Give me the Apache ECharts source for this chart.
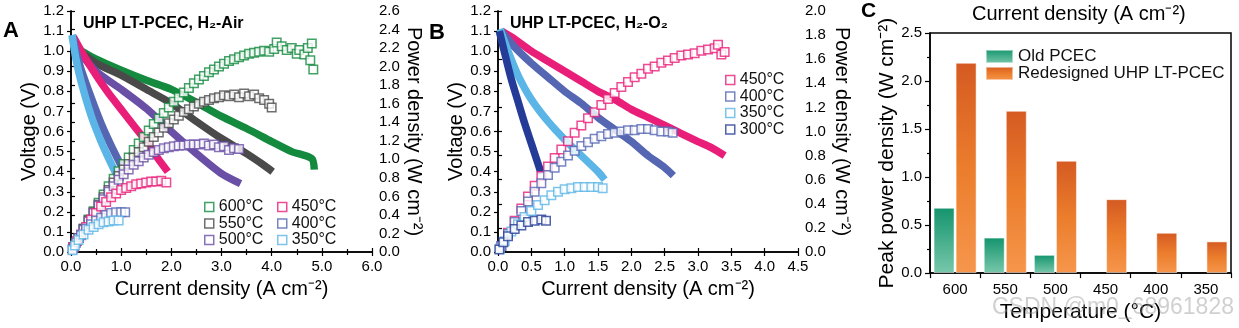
<!DOCTYPE html>
<html>
<head>
<meta charset="utf-8">
<script src="https://cdn.jsdelivr.net/npm/echarts@6/dist/echarts.min.js"></script>
<style>
  html, body { margin: 0; padding: 0; background: #fff; }
  #chart { width: 1239px; height: 328px; }
</style>
</head>
<body>
<div id="chart"></div>
<script>
// ---------- Panel A: H2-Air, voltage [A cm-2, V] ----------
const aV600 = [[0.08,1.02],[0.5,0.96],[1.0,0.905],[1.5,0.855],[2.0,0.81],[2.5,0.745],[3.0,0.675],[3.5,0.615],[4.0,0.55],[4.4,0.50],[4.8,0.465],[4.85,0.41]];
const aV550 = [[0.08,1.02],[0.5,0.94],[1.0,0.88],[1.5,0.81],[2.0,0.74],[2.5,0.65],[3.0,0.565],[3.5,0.49],[3.8,0.44],[4.02,0.40]];
const aV500 = [[0.08,1.02],[0.5,0.90],[1.0,0.81],[1.5,0.715],[2.0,0.60],[2.5,0.49],[3.0,0.39],[3.38,0.34]];
const aV450 = [[0.05,1.07],[0.25,0.98],[0.5,0.88],[0.75,0.79],[1.0,0.71],[1.25,0.63],[1.5,0.55],[1.75,0.46],[1.93,0.40]];
const aV400 = [[0.03,1.08],[0.1,1.0],[0.2,0.91],[0.4,0.77],[0.6,0.64],[0.8,0.53],[1.0,0.43]];
const aV350 = [[0.02,1.08],[0.1,0.96],[0.2,0.85],[0.4,0.68],[0.6,0.55],[0.8,0.44],[0.9,0.39]];

// ---------- Panel A: H2-Air, power density [A cm-2, W cm-2] ----------
const aP600 = [[0.05,0.05],[0.15,0.15],[0.25,0.25],[0.35,0.35],[0.45,0.44],[0.55,0.53],[0.65,0.62],[0.75,0.71],[0.85,0.79],[0.95,0.87],[1.05,0.95],[1.15,1.02],[1.25,1.10],[1.35,1.17],[1.45,1.24],[1.55,1.31],[1.65,1.38],[1.75,1.44],[1.85,1.50],[1.95,1.56],[2.05,1.62],[2.15,1.67],[2.25,1.72],[2.35,1.77],[2.45,1.82],[2.55,1.86],[2.65,1.90],[2.75,1.94],[2.85,1.97],[2.95,2.00],[3.05,2.03],[3.15,2.06],[3.25,2.08],[3.35,2.10],[3.45,2.12],[3.55,2.14],[3.65,2.15],[3.75,2.16],[3.85,2.17],[3.95,2.16],[4.05,2.19],[4.1,2.26],[4.2,2.22],[4.3,2.18],[4.4,2.20],[4.5,2.14],[4.55,2.18],[4.65,2.13],[4.72,2.20],[4.8,2.25],[4.77,2.07],[4.83,1.97]];
const aP550 = [[0.05,0.05],[0.15,0.15],[0.25,0.25],[0.35,0.34],[0.45,0.43],[0.55,0.51],[0.65,0.59],[0.75,0.67],[0.85,0.75],[0.95,0.82],[1.05,0.89],[1.15,0.95],[1.25,1.02],[1.35,1.08],[1.45,1.13],[1.55,1.19],[1.65,1.24],[1.75,1.29],[1.85,1.34],[1.95,1.39],[2.05,1.43],[2.15,1.47],[2.25,1.51],[2.35,1.54],[2.45,1.57],[2.55,1.60],[2.65,1.62],[2.75,1.64],[2.85,1.66],[2.95,1.67],[3.05,1.69],[3.15,1.68],[3.25,1.70],[3.35,1.67],[3.45,1.71],[3.55,1.68],[3.65,1.70],[3.75,1.66],[3.85,1.64],[3.95,1.60],[4.0,1.56]];
const aP500 = [[0.05,0.05],[0.15,0.15],[0.25,0.24],[0.35,0.33],[0.45,0.42],[0.55,0.50],[0.65,0.57],[0.75,0.65],[0.85,0.71],[0.95,0.78],[1.05,0.84],[1.15,0.89],[1.25,0.94],[1.35,0.98],[1.45,1.02],[1.55,1.05],[1.65,1.08],[1.75,1.10],[1.85,1.12],[1.95,1.13],[2.05,1.14],[2.15,1.15],[2.25,1.15],[2.35,1.16],[2.45,1.16],[2.55,1.16],[2.65,1.17],[2.75,1.15],[2.85,1.16],[2.95,1.13],[3.05,1.14],[3.15,1.10],[3.25,1.12],[3.35,1.11]];
const aP450 = [[0.05,0.05],[0.12,0.12],[0.2,0.19],[0.3,0.27],[0.4,0.35],[0.5,0.42],[0.6,0.49],[0.7,0.54],[0.8,0.59],[0.9,0.63],[1.0,0.67],[1.1,0.69],[1.2,0.71],[1.3,0.73],[1.4,0.74],[1.5,0.75],[1.6,0.76],[1.7,0.76],[1.8,0.77],[1.9,0.75]];
const aP400 = [[0.03,0.03],[0.1,0.10],[0.2,0.18],[0.3,0.25],[0.4,0.30],[0.5,0.34],[0.6,0.37],[0.7,0.40],[0.8,0.42],[0.9,0.43],[1.0,0.43],[1.08,0.43]];
const aP350 = [[0.03,0.02],[0.08,0.07],[0.15,0.13],[0.25,0.19],[0.35,0.24],[0.45,0.27],[0.55,0.30],[0.65,0.32],[0.75,0.33],[0.85,0.34],[0.95,0.34]];

// ---------- Panel B: H2-O2, voltage ----------
const bV450 = [[0.05,1.10],[0.25,1.06],[0.5,1.0],[0.75,0.95],[1.0,0.90],[1.25,0.85],[1.5,0.80],[1.75,0.76],[2.0,0.71],[2.25,0.67],[2.5,0.63],[2.75,0.59],[3.0,0.55],[3.2,0.52],[3.4,0.48]];
const bV400 = [[0.05,1.10],[0.25,1.02],[0.5,0.94],[0.75,0.87],[1.0,0.80],[1.25,0.74],[1.5,0.67],[1.75,0.61],[2.0,0.55],[2.25,0.48],[2.5,0.42],[2.63,0.38]];
const bV350 = [[0.03,1.11],[0.15,1.0],[0.3,0.88],[0.5,0.76],[0.75,0.65],[1.0,0.56],[1.25,0.48],[1.5,0.40],[1.6,0.36]];
const bV300 = [[0.02,1.10],[0.1,0.99],[0.2,0.86],[0.3,0.75],[0.4,0.64],[0.5,0.54],[0.6,0.44],[0.65,0.39]];

// ---------- Panel B: H2-O2, power density ----------
const bP450 = [[0.05,0.05],[0.15,0.16],[0.25,0.26],[0.35,0.36],[0.45,0.46],[0.55,0.55],[0.65,0.63],[0.75,0.71],[0.85,0.78],[0.95,0.85],[1.05,0.92],[1.15,0.99],[1.25,1.05],[1.35,1.11],[1.45,1.16],[1.55,1.22],[1.65,1.27],[1.75,1.32],[1.85,1.37],[1.95,1.41],[2.05,1.45],[2.15,1.48],[2.25,1.52],[2.35,1.54],[2.45,1.57],[2.55,1.59],[2.65,1.61],[2.75,1.63],[2.85,1.64],[2.95,1.65],[3.05,1.67],[3.15,1.68],[3.25,1.69],[3.3,1.72],[3.35,1.64],[3.4,1.66]];
const bP400 = [[0.05,0.05],[0.15,0.15],[0.25,0.25],[0.35,0.34],[0.45,0.42],[0.55,0.50],[0.65,0.57],[0.75,0.64],[0.85,0.70],[0.95,0.75],[1.05,0.80],[1.15,0.84],[1.25,0.88],[1.35,0.91],[1.45,0.94],[1.55,0.96],[1.65,0.98],[1.75,0.99],[1.85,1.0],[1.95,1.01],[2.05,1.01],[2.15,1.02],[2.25,1.02],[2.35,1.01],[2.45,1.0],[2.55,1.0],[2.62,0.99]];
const bP350 = [[0.03,0.03],[0.1,0.09],[0.2,0.17],[0.3,0.23],[0.4,0.29],[0.5,0.34],[0.6,0.39],[0.7,0.43],[0.8,0.47],[0.9,0.50],[1.0,0.52],[1.1,0.53],[1.2,0.54],[1.3,0.54],[1.4,0.54],[1.5,0.54],[1.57,0.53]];
const bP300 = [[0.02,0.02],[0.08,0.08],[0.15,0.13],[0.25,0.19],[0.35,0.22],[0.45,0.25],[0.55,0.26],[0.65,0.27],[0.72,0.26]];

// ---------- Panel C: peak power density ----------
const temps = ['600', '550', '500', '450', '400', '350'];
const oldPeak = [0.68, 0.37, 0.19, null, null, null];
const newPeak = [2.19, 1.69, 1.17, 0.77, 0.42, 0.33];

const FONT = '"Liberation Sans", Arial, Helvetica, sans-serif';
const COL = {
  600: '#138a3e', 550: '#4a4a4a', 500: '#6a4fa6', 450: '#e91e79',
  400: '#5567b3', 350: '#5bb5e6', 300: '#243b97'
};

const chart = echarts.init(document.getElementById('chart'), null, { renderer: 'canvas' });

const lineAxis = { show: true, lineStyle: { color: '#000', width: 1.5 } };
const fix1 = v => v.toFixed(1);
const tickFont = { color: '#000', fontSize: 15, fontFamily: FONT };

function xVal(grid, max, interval, opts) {
  return Object.assign({
    type: 'value', gridIndex: grid, min: 0, max: max, interval: interval,
    axisLine: lineAxis, splitLine: { show: false },
    axisTick: { show: true, inside: true, length: 4, lineStyle: { color: '#000', width: 1.2 } },
    minorTick: { show: true, splitNumber: 2, length: 3, lineStyle: { color: '#000', width: 1.2 } },
    axisLabel: Object.assign({ formatter: fix1, margin: 7 }, tickFont)
  }, opts || {});
}
function yVal(grid, max, interval, opts) {
  return Object.assign({
    type: 'value', gridIndex: grid, min: 0, max: max, interval: interval,
    axisLine: lineAxis, splitLine: { show: false },
    axisTick: { show: true, inside: false, length: 4, lineStyle: { color: '#000', width: 1.2 } },
    axisLabel: Object.assign({ formatter: fix1, margin: 7 }, tickFont)
  }, opts || {});
}
const nameStyle = { color: '#000', fontSize: 20, fontFamily: FONT };
const topAxis = (grid, max, interval, minor) => xVal(grid, max, interval, {
  position: 'top', axisLabel: { show: false }, minorTick: { show: minor, splitNumber: 2, length: 3, lineStyle: { color: '#000', width: 1.2 } }
});

function vLine(name, data, color, xi, yi) {
  return {
    type: 'line', name: name, data: data, xAxisIndex: xi, yAxisIndex: yi,
    symbol: 'none', smooth: 0.25, silent: true, z: 2,
    lineStyle: { color: color, width: 7.5, cap: 'butt' }
  };
}
function pDots(name, data, color, xi, yi) {
  return {
    type: 'scatter', name: name, data: data, xAxisIndex: xi, yAxisIndex: yi,
    symbol: 'rect', symbolSize: 8.5, silent: true, z: 3,
    itemStyle: { color: '#fff', borderColor: color, borderWidth: 1.5 }
  };
}
function legendCol(names, left, top) {
  return {
    orient: 'vertical', left: left, top: top, padding: 0, itemGap: 0.5,
    itemWidth: 9, itemHeight: 9, icon: 'rect',
    formatter: n => n.split('|')[1],
    textStyle: { color: '#111', fontSize: 16, fontFamily: FONT, lineHeight: 16 },
    data: names.map(n => ({
      name: n,
      itemStyle: { color: '#fff', borderColor: COL[n.split('|')[1].slice(0, 3)], borderWidth: 1.5 }
    }))
  };
}

const gradOld = new echarts.graphic.LinearGradient(0, 0, 0, 1, [
  { offset: 0, color: '#14946d' }, { offset: 1, color: '#78c8ab' }
]);
const gradNew = new echarts.graphic.LinearGradient(0, 0, 0, 1, [
  { offset: 0, color: '#d55a22' }, { offset: 0.5, color: '#eb7d2c' }, { offset: 1, color: '#f6964c' }
]);

const option = {
  animation: false,
  backgroundColor: '#fff',
  textStyle: { fontFamily: FONT },
  grid: [
    { left: 71, top: 11, width: 301, height: 241 },
    { left: 498, top: 11, width: 300, height: 241 },
    { left: 930, top: 33, width: 301, height: 242, show: true, borderColor: '#000', borderWidth: 1.5 }
  ],
  xAxis: [
    xVal(0, 6, 1, { name: 'Current density (A cm⁻²)', nameLocation: 'middle', nameGap: 27, nameTextStyle: nameStyle }),
    topAxis(0, 6, 1, true),
    xVal(1, 4.5, 0.5, { name: 'Current density (A cm⁻²)', nameLocation: 'middle', nameGap: 27, nameTextStyle: nameStyle, minorTick: { show: false } }),
    topAxis(1, 4.5, 0.5, false),
    {
      type: 'category', gridIndex: 2, data: temps,
      axisLine: lineAxis, splitLine: { show: false },
      axisTick: { show: true, inside: false, length: 5, alignWithLabel: false, lineStyle: { color: '#000', width: 1.2 } },
      axisLabel: Object.assign({ margin: 9 }, tickFont),
      name: 'Temperature (°C)', nameLocation: 'middle', nameGap: 28,
      nameTextStyle: { color: '#000', fontSize: 21, fontFamily: FONT }
    }
  ],
  yAxis: [
    yVal(0, 1.2, 0.1, { name: 'Voltage (V)', nameLocation: 'middle', nameGap: 32, nameTextStyle: nameStyle }),
    yVal(0, 2.6, 0.2, { position: 'right', name: 'Power density (W cm⁻²)', nameLocation: 'middle', nameRotate: -90, nameGap: 31, nameTextStyle: nameStyle }),
    yVal(1, 1.2, 0.1, { name: 'Voltage (V)', nameLocation: 'middle', nameGap: 32, nameTextStyle: nameStyle }),
    yVal(1, 2.0, 0.2, { position: 'right', name: 'Power density (W cm⁻²)', nameLocation: 'middle', nameRotate: -90, nameGap: 34, nameTextStyle: nameStyle }),
    yVal(2, 2.5, 0.5, {
      name: 'Peak power density (W cm⁻²)', nameLocation: 'middle', nameGap: 32,
      nameTextStyle: { color: '#000', fontSize: 21, fontFamily: FONT },
      axisTick: { show: true, inside: false, length: 5, lineStyle: { color: '#000', width: 1.2 } },
      minorTick: { show: true, splitNumber: 2, length: 3, lineStyle: { color: '#000', width: 1.2 } },
      axisLabel: Object.assign({ formatter: fix1, margin: 8 }, tickFont)
    })
  ],
  legend: [
    legendCol(['A|600°C', 'A|550°C', 'A|500°C'], 204, 199),
    legendCol(['A|450°C', 'A|400°C', 'A|350°C'], 277, 199),
    legendCol(['B|450°C', 'B|400°C', 'B|350°C', 'B|300°C'], 725, 72),
    {
      orient: 'vertical', left: 985, top: 48, padding: 0, itemGap: 0,
      itemWidth: 27, itemHeight: 13, icon: 'rect',
      textStyle: { color: '#111', fontSize: 17, fontFamily: FONT, lineHeight: 16 },
      data: ['Old PCEC', 'Redesigned UHP LT-PCEC']
    }
  ],
  series: [
    vLine('A|v600', aV600, COL[600], 0, 0),
    vLine('A|v550', aV550, COL[550], 0, 0),
    vLine('A|v500', aV500, COL[500], 0, 0),
    vLine('A|v450', aV450, COL[450], 0, 0),
    vLine('A|v400', aV400, COL[400], 0, 0),
    vLine('A|v350', aV350, COL[350], 0, 0),
    pDots('A|600°C', aP600, COL[600], 0, 1),
    pDots('A|550°C', aP550, COL[550], 0, 1),
    pDots('A|500°C', aP500, COL[500], 0, 1),
    pDots('A|450°C', aP450, COL[450], 0, 1),
    pDots('A|400°C', aP400, COL[400], 0, 1),
    pDots('A|350°C', aP350, COL[350], 0, 1),

    vLine('B|v450', bV450, COL[450], 2, 2),
    vLine('B|v400', bV400, COL[400], 2, 2),
    vLine('B|v350', bV350, COL[350], 2, 2),
    vLine('B|v300', bV300, COL[300], 2, 2),
    pDots('B|450°C', bP450, COL[450], 2, 3),
    pDots('B|400°C', bP400, COL[400], 2, 3),
    pDots('B|350°C', bP350, COL[350], 2, 3),
    pDots('B|300°C', bP300, COL[300], 2, 3),

    {
      type: 'bar', name: 'Old PCEC', data: oldPeak, xAxisIndex: 4, yAxisIndex: 4,
      barWidth: 21, barGap: '5%', silent: true,
      itemStyle: { color: gradOld, borderColor: 'rgba(255,255,255,0.5)', borderWidth: 1 }
    },
    {
      type: 'bar', name: 'Redesigned UHP LT-PCEC', data: newPeak, xAxisIndex: 4, yAxisIndex: 4,
      barWidth: 21, barGap: '5%', silent: true,
      itemStyle: { color: gradNew, borderColor: 'rgba(255,255,255,0.5)', borderWidth: 1 }
    }
  ],
  graphic: [
    { type: 'text', left: 3, top: 20, style: { text: 'A', font: 'bold 22px ' + FONT, fill: '#000' } },
    { type: 'text', left: 429, top: 22, style: { text: 'B', font: 'bold 22px ' + FONT, fill: '#000' } },
    { type: 'text', left: 861, top: 1, style: { text: 'C', font: 'bold 21px ' + FONT, fill: '#000' } },
    { type: 'text', left: 83, top: 16, style: { text: 'UHP LT-PCEC, H₂-Air', font: 'bold 16px ' + FONT, fill: '#000' } },
    { type: 'text', left: 510, top: 16, style: { text: 'UHP LT-PCEC, H₂-O₂', font: 'bold 16px ' + FONT, fill: '#000' } },
    { type: 'text', left: 972, top: 4, style: { text: 'Current density (A cm⁻²)', font: '20px ' + FONT, fill: '#000' } },
    { type: 'text', left: 992, top: 296, z: 100, style: { text: 'CSDN @m0_68961828', font: '23px ' + FONT, fill: 'rgba(150,150,150,0.45)' } }
  ]
};

chart.setOption(option);
</script>
</body>
</html>
